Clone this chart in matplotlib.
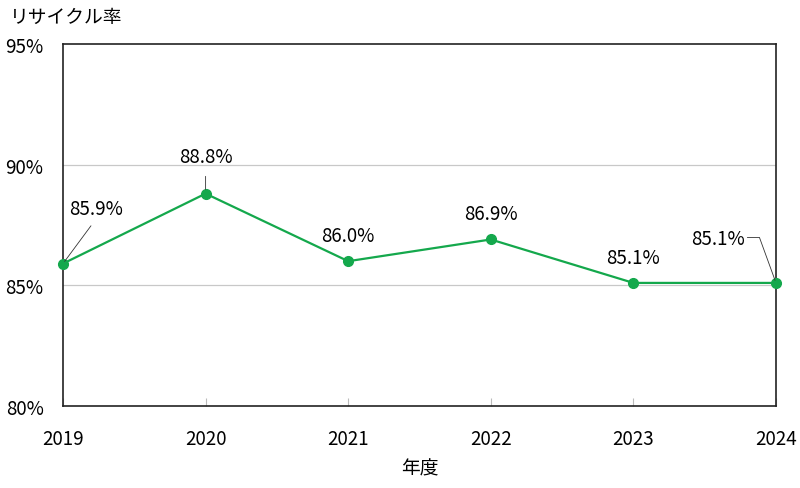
import matplotlib.pyplot as plt

plt.rcParams['font.family'] = ['Noto Sans CJK JP', 'DejaVu Sans']

years = [2019, 2020, 2021, 2022, 2023, 2024]
rates = [85.9, 88.8, 86.0, 86.9, 85.1, 85.1]
labels = ['85.9%', '88.8%', '86.0%', '86.9%', '85.1%', '85.1%']
green = '#14a84c'

fig = plt.figure(figsize=(8, 4.89), dpi=100)
ax = fig.add_axes([0.07875, 0.1677, 0.89125, 0.7403])

ax.plot(years, rates, color=green, lw=1.6, marker='o', ms=7, clip_on=False, zorder=3)

ax.set_xlim(2019, 2024)
ax.set_ylim(80, 95)
ax.set_yticks([80, 85, 90, 95])
ax.set_yticklabels(['80%', '85%', '90%', '95%'])
ax.set_xticks(years)
ax.set_xticklabels([str(y) for y in years])
ax.tick_params(axis='y', length=0, pad=14, labelsize=13.5)
ax.tick_params(axis='x', direction='in', length=6, color='#bbbbbb', width=0.8, pad=16, labelsize=13.5)

for y in [85, 90]:
    ax.axhline(y, color='#c8c8c8', lw=0.9, zorder=1)

for s in ax.spines.values():
    s.set_color('#222222')
    s.set_linewidth(1.2)

# labels with leader lines where offset
ax.annotate(labels[0], (years[0], rates[0]), xytext=(24, 40), textcoords='offset points',
            ha='center', va='center', fontsize=13.5,
            arrowprops=dict(arrowstyle='-', color='#333333', lw=0.6, shrinkA=4, shrinkB=2,
                            relpos=(0.5, 0)))
ax.annotate(labels[1], (years[1], rates[1]), xytext=(0, 27), textcoords='offset points',
            ha='center', va='center', fontsize=13.5,
            arrowprops=dict(arrowstyle='-', color='#333333', lw=0.6, shrinkA=5, shrinkB=3))
for i in [2, 3, 4]:
    ax.annotate(labels[i], (years[i], rates[i]), xytext=(0, 18.5), textcoords='offset points',
                ha='center', va='center', fontsize=13.5)
ax.annotate(labels[5], (years[5], rates[5]), xytext=(-42, 32), textcoords='offset points',
            ha='center', va='center', fontsize=13.5,
            arrowprops=dict(arrowstyle='-', color='#333333', lw=0.6, shrinkA=0, shrinkB=2,
                            relpos=(1.05, 0.55),
                            connectionstyle='angle,angleA=0,angleB=110,rad=0'))

fig.text(0.012, 0.965, 'リサイクル率', fontsize=13.5, ha='left', va='center')
ax.set_xlabel('年度', fontsize=13.5, labelpad=6)

fig.savefig('out.png')
